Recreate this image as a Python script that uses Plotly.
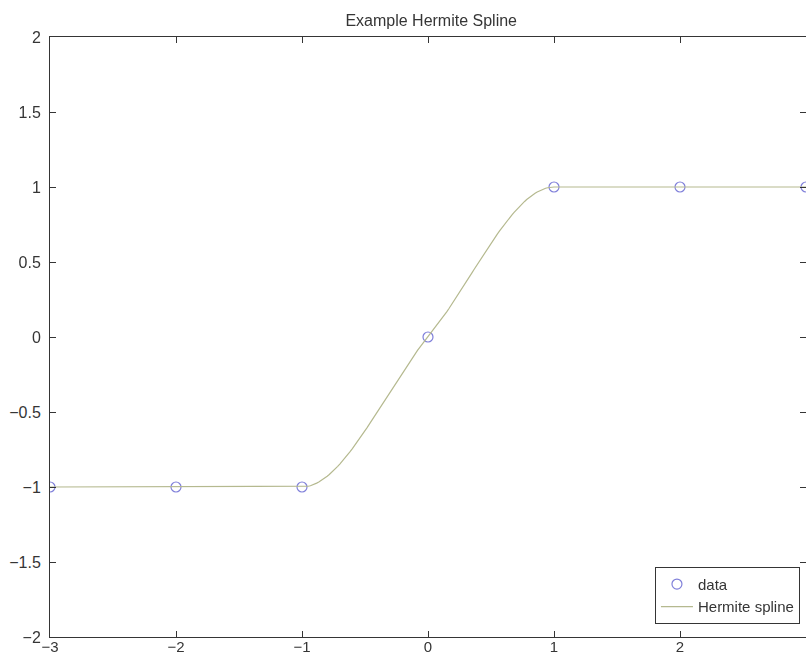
import numpy as np
import plotly.graph_objects as go

# Knot data for the interpolation
x_data = [-3, -2, -1, 0, 1, 2, 3]
y_data = [-1, -1, -1, 0, 1, 1, 1]
# Shape-preserving derivative values at each knot (pchip slopes)
slopes = [0, 0, 0, 1, 0, 0, 0]

x_ticks = [-3, -2, -1, 0, 1, 2, 3]
y_ticks = [-2, -1.5, -1, -0.5, 0, 0.5, 1, 1.5, 2]

FONT = "Liberation Sans, Arial, sans-serif"
INK = "#353535"


def hermite_curve(xk, yk, dk, n_per=60):
    """Evaluate the piecewise cubic Hermite interpolant on a fine grid."""
    xs, ys = [], []
    for i in range(len(xk) - 1):
        h = xk[i + 1] - xk[i]
        t = np.linspace(0, 1, n_per, endpoint=(i == len(xk) - 2))
        h00 = 2 * t**3 - 3 * t**2 + 1
        h10 = t**3 - 2 * t**2 + t
        h01 = -2 * t**3 + 3 * t**2
        h11 = t**3 - t**2
        xs.append(xk[i] + h * t)
        ys.append(h00 * yk[i] + h10 * h * dk[i] + h01 * yk[i + 1] + h11 * h * dk[i + 1])
    return np.concatenate(xs), np.concatenate(ys)


def fmt(v):
    s = "%g" % abs(v)
    return ("−" + s) if v < 0 else s


xx, yy = hermite_curve(x_data, y_data, slopes)

fig = go.Figure()
fig.add_trace(go.Scatter(
    x=x_data, y=y_data, mode="markers", name="data",
    marker=dict(symbol="circle-open", size=10, color="#8080da",
                line=dict(width=1.2, color="#8080da")),
))
fig.add_trace(go.Scatter(
    x=xx, y=yy, mode="lines", name="Hermite spline",
    line=dict(color="#b5b98f", width=1.2),
))
# invisible trace carrying the right-hand tick axis
fig.add_trace(go.Scatter(
    x=x_data, y=y_data, yaxis="y2", mode="markers", opacity=0,
    showlegend=False, hoverinfo="skip",
))

tick_common = dict(
    showgrid=False, zeroline=False, ticks="inside", ticklen=6,
    tickcolor=INK, tickwidth=1, automargin=False,
)

fig.update_layout(
    width=806, height=657,
    margin=dict(l=50, r=0, t=37, b=20),
    paper_bgcolor="white", plot_bgcolor="white",
    title=dict(text="Example Hermite Spline", x=0.535, xanchor="center",
               y=1 - 20 / 657, yanchor="middle",
               font=dict(family=FONT, size=16, color=INK)),
    xaxis=dict(range=[-3, 3], tickvals=x_ticks, ticktext=[fmt(v) for v in x_ticks],
               showline=True, linecolor=INK, linewidth=1, mirror="ticks",
               ticklabelstandoff=-4, tickfont=dict(family=FONT, size=15, color=INK),
               **tick_common),
    yaxis=dict(range=[-2, 2], tickvals=y_ticks, ticktext=[fmt(v) for v in y_ticks],
               showline=True, linecolor=INK, linewidth=1, mirror=False,
               ticklabelstandoff=5, tickfont=dict(family=FONT, size=16, color=INK),
               **tick_common),
    yaxis2=dict(range=[-2, 2], tickvals=y_ticks, overlaying="y", side="right",
                showline=False, showticklabels=False, **tick_common),
    legend=dict(x=0.992, xanchor="right", y=0.022, yanchor="bottom",
                bgcolor="white", bordercolor=INK, borderwidth=1,
                font=dict(family=FONT, size=15, color=INK),
                tracegroupgap=0, itemwidth=32),
    showlegend=True,
)

fig.write_html("out.html")
